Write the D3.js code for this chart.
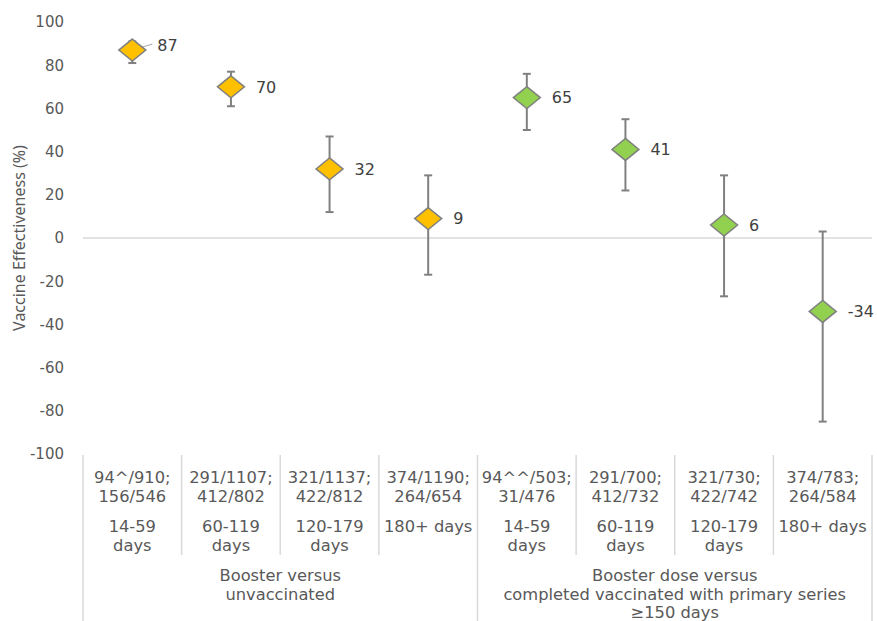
<!DOCTYPE html>
<html><head><meta charset="utf-8">
<script src="https://cdn.jsdelivr.net/npm/d3@7"></script>
<style>body{margin:0;background:#fff}svg{display:block}</style>
</head><body><svg id="c" width="877" height="621"></svg>
<script>
const categoriesCounts1 = ["94^/910;","291/1107;","321/1137;","374/1190;","94^^/503;","291/700;","321/730;","374/783;"];
const categoriesCounts2 = ["156/546","412/802","422/812","264/654","31/476","412/732","422/742","264/584"];
const periodLine1 = ["14-59","60-119","120-179","180+ days","14-59","60-119","120-179","180+ days"];
const periodLine2 = ["days","days","days","","days","days","days",""];
const groupLabels = [["Booster versus","unvaccinated"],["Booster dose versus","completed vaccinated with primary series","\u2265150 days"]];
const groupIndex = [0,0,0,0,1,1,1,1];
const ve = [87,70,32,9,65,41,6,-34];
const ciLow = [81,61,12,-17,50,22,-27,-85];
const ciHigh = [91,77,47,29,76,55,29,3];
const yTicks = [100,80,60,40,20,0,-20,-40,-60,-80,-100];
const colors = ["#FFC000","#92D050"];

const svg = d3.select("#c");
const pLeft = 83, pRight = 872, pTop = 22, pBottom = 454;
const idx = d3.range(ve.length);
const x = d3.scaleBand().domain(idx).range([pLeft,pRight]);
const y = d3.scaleLinear().domain([-100,100]).range([pBottom,pTop]);
const txt = "#595959";

// y tick labels via axis
const yAxis = svg.append("g").attr("transform",`translate(${pLeft},0)`)
  .call(d3.axisLeft(y).tickValues(yTicks).tickSize(0).tickPadding(19).tickFormat(d=>String(d)));
yAxis.select(".domain").remove();
yAxis.selectAll("text").attr("font-family","'DejaVu Sans',Verdana,sans-serif").attr("font-size",15).attr("fill",txt);

// zero line
svg.append("line").attr("x1",pLeft).attr("x2",pRight).attr("y1",y(0)).attr("y2",y(0))
  .attr("stroke","#d9d9d9").attr("stroke-width",1.5);

// y title
svg.append("text").attr("transform",`translate(25,${(pTop+pBottom)/2}) rotate(-90)`)
  .attr("text-anchor","middle").attr("font-family","'Noto Sans',sans-serif").attr("font-size",16)
  .attr("fill",txt).text("Vaccine Effectiveness (%)");

// category box lines
const lineCol = "#d9d9d9";
idx.concat([ve.length]).forEach(i=>{
  const xx = i<ve.length ? x(i) : pRight;
  const full = (i===0 || i===ve.length || i===4);
  svg.append("line").attr("x1",xx).attr("x2",xx).attr("y1",455).attr("y2",full?621:555)
    .attr("stroke",lineCol).attr("stroke-width",1.5);
});

// category labels
const catFont = "'DejaVu Sans',Verdana,sans-serif";
const lab = svg.append("g").attr("font-family",catFont).attr("font-size",16.3).attr("fill",txt).attr("text-anchor","middle");
idx.forEach(i=>{
  const cx = x(i)+x.bandwidth()/2;
  [[categoriesCounts1[i],483],[categoriesCounts2[i],502],[periodLine1[i],532],[periodLine2[i],551]].forEach(([t,yy])=>{
    if(t) lab.append("text").attr("x",cx).attr("y",yy).text(t);
  });
});
groupLabels.forEach((lines,g)=>{
  const members = idx.filter(i=>groupIndex[i]===g);
  const cx = (x(members[0]) + x(members[members.length-1])+x.bandwidth())/2;
  lines.forEach((t,k)=>lab.append("text").attr("x",cx).attr("y",581+k*18.5).text(t));
});

// error bars
const eb = svg.append("g").attr("stroke","#808080").attr("stroke-width",2);
idx.forEach(i=>{
  const cx = x(i)+x.bandwidth()/2;
  eb.append("line").attr("x1",cx).attr("x2",cx).attr("y1",y(ciLow[i])).attr("y2",y(ciHigh[i]));
  [ciLow[i],ciHigh[i]].forEach(v=>eb.append("line").attr("x1",cx-4).attr("x2",cx+4).attr("y1",y(v)).attr("y2",y(v)));
});

// leader line for first label
{
  const cx = x(0)+x.bandwidth()/2;
  svg.append("line").attr("x1",cx).attr("y1",y(ve[0])).attr("x2",cx+20).attr("y2",y(ve[0])-6)
    .attr("stroke","#a6a6a6").attr("stroke-width",1);
}

// diamonds
const hw=13.5, hh=11;
idx.forEach(i=>{
  const cx = x(i)+x.bandwidth()/2, cy = y(ve[i]);
  svg.append("path").attr("d",`M${cx},${cy-hh}L${cx+hw},${cy}L${cx},${cy+hh}L${cx-hw},${cy}Z`)
    .attr("fill",colors[groupIndex[i]]).attr("stroke","#808080").attr("stroke-width",1.5);
});

// data labels
idx.forEach(i=>{
  const cx = x(i)+x.bandwidth()/2, cy = y(ve[i]) + (i===0?-5:0);
  svg.append("text").attr("x",cx+25).attr("y",cy).attr("dy","0.36em")
    .attr("font-family",catFont).attr("font-size",16).attr("fill","#404040").text(ve[i]);
});
</script></body></html>
